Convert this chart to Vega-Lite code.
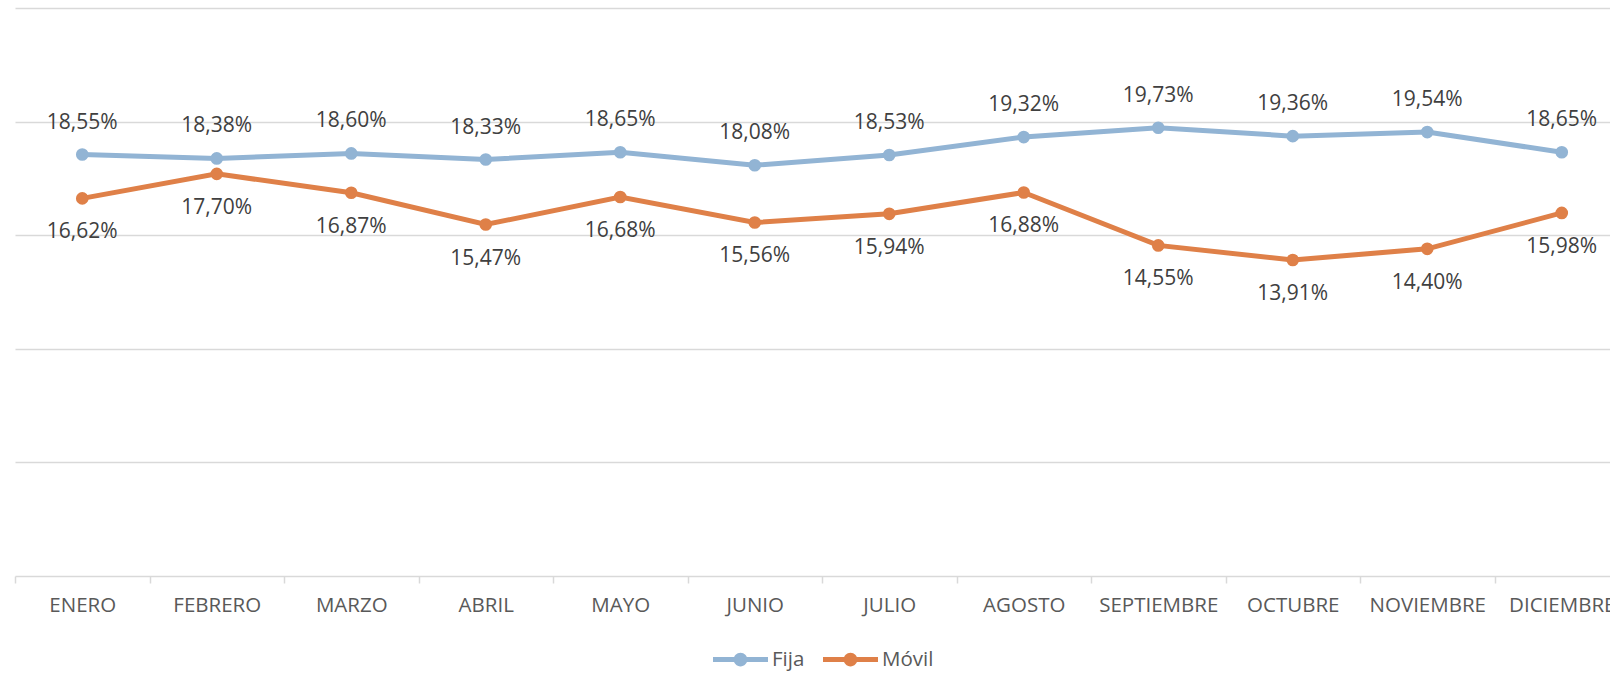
{
  "$schema": "https://vega.github.io/schema/vega-lite/v6.json",
  "width": 1614,
  "height": 568,
  "autosize": {"type": "none"},
  "padding": {"left": 15, "top": 8, "right": 0, "bottom": 100},
  "config": {
    "locale": {"number": {"decimal": ",", "thousands": ".", "grouping": [3], "currency": ["", " €"]}},
    "view": {"stroke": null},
    "font": "Open Sans"
  },
  "data": {"values": [
    {"mes": "ENERO", "serie": "Fija", "valor": 0.1855},
    {"mes": "FEBRERO", "serie": "Fija", "valor": 0.1838},
    {"mes": "MARZO", "serie": "Fija", "valor": 0.1860},
    {"mes": "ABRIL", "serie": "Fija", "valor": 0.1833},
    {"mes": "MAYO", "serie": "Fija", "valor": 0.1865},
    {"mes": "JUNIO", "serie": "Fija", "valor": 0.1808},
    {"mes": "JULIO", "serie": "Fija", "valor": 0.1853},
    {"mes": "AGOSTO", "serie": "Fija", "valor": 0.1932},
    {"mes": "SEPTIEMBRE", "serie": "Fija", "valor": 0.1973},
    {"mes": "OCTUBRE", "serie": "Fija", "valor": 0.1936},
    {"mes": "NOVIEMBRE", "serie": "Fija", "valor": 0.1954},
    {"mes": "DICIEMBRE", "serie": "Fija", "valor": 0.1865},
    {"mes": "ENERO", "serie": "Móvil", "valor": 0.1662},
    {"mes": "FEBRERO", "serie": "Móvil", "valor": 0.1770},
    {"mes": "MARZO", "serie": "Móvil", "valor": 0.1687},
    {"mes": "ABRIL", "serie": "Móvil", "valor": 0.1547},
    {"mes": "MAYO", "serie": "Móvil", "valor": 0.1668},
    {"mes": "JUNIO", "serie": "Móvil", "valor": 0.1556},
    {"mes": "JULIO", "serie": "Móvil", "valor": 0.1594},
    {"mes": "AGOSTO", "serie": "Móvil", "valor": 0.1688},
    {"mes": "SEPTIEMBRE", "serie": "Móvil", "valor": 0.1455},
    {"mes": "OCTUBRE", "serie": "Móvil", "valor": 0.1391},
    {"mes": "NOVIEMBRE", "serie": "Móvil", "valor": 0.1440},
    {"mes": "DICIEMBRE", "serie": "Móvil", "valor": 0.1598}
  ]},
  "encoding": {
    "x": {
      "field": "mes", "type": "nominal", "sort": null, "title": null,
      "scale": {"paddingInner": 0, "paddingOuter": 0},
      "axis": {
        "labelAngle": 0, "tickBand": "extent", "grid": false,
        "domainColor": "#d9d9d9", "domainWidth": 1.5,
        "tickColor": "#d9d9d9", "tickWidth": 1.5, "tickSize": 7,
        "labelFont": "Open Sans", "labelFontSize": 20.5, "labelColor": "#595959",
        "labelPadding": 12
      }
    },
    "y": {
      "field": "valor", "type": "quantitative", "title": null,
      "scale": {"domain": [0, 0.25], "nice": false},
      "axis": {
        "values": [0.05, 0.1, 0.15, 0.2, 0.25],
        "grid": true, "gridColor": "#d9d9d9", "gridWidth": 1.5,
        "domain": false, "ticks": false, "labels": false
      }
    },
    "color": {
      "field": "serie", "type": "nominal", "title": null,
      "scale": {"domain": ["Fija", "Móvil"], "range": ["#92B4D4", "#DF8048"]},
      "legend": {
        "orient": "none", "direction": "horizontal",
        "legendX": 698, "legendY": 624,
        "symbolType": "M-1,-0.09 L1,-0.09 L1,0.09 L-1,0.09 Z M-0.25,0 A0.25,0.25 0 1,1 0.25,0 A0.25,0.25 0 1,1 -0.25,0 Z",
        "symbolSize": 3025,
        "symbolStrokeWidth": 0,
        "labelFont": "Open Sans", "labelFontSize": 20.5, "labelColor": "#595959",
        "labelOffset": 4, "columnPadding": 18,
        "encode": {"symbols": {"update": {"fill": {"scale": "color", "field": "value"}, "fillOpacity": {"value": 1}, "strokeWidth": {"value": 0}}}}
      }
    }
  },
  "layer": [
    {"mark": {"type": "line", "strokeWidth": 5}},
    {"mark": {"type": "point", "filled": true, "opacity": 1, "size": 160}},
    {
      "transform": [{"filter": "datum.serie == 'Fija'"}],
      "mark": {"type": "text", "dy": -32, "fontSize": 21, "color": "#404040", "font": "Open Sans"},
      "encoding": {"text": {"field": "valor", "type": "quantitative", "format": ".2%"}, "color": {"value": "#404040"}}
    },
    {
      "transform": [{"filter": "datum.serie == 'Móvil'"}],
      "mark": {"type": "text", "dy": 34, "fontSize": 21, "color": "#404040", "font": "Open Sans"},
      "encoding": {"text": {"field": "valor", "type": "quantitative", "format": ".2%"}, "color": {"value": "#404040"}}
    }
  ]
}
